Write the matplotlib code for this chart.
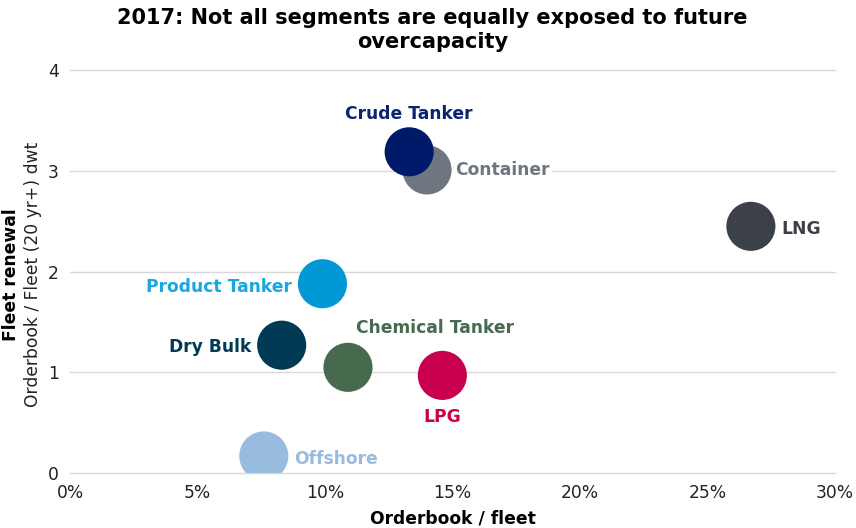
import matplotlib.pyplot as plt

# data
segments = ["Crude Tanker", "Container", "LNG", "Product Tanker", "Dry Bulk",
            "Chemical Tanker", "LPG", "Offshore"]
orderbook_pct = [13.3, 14.0, 26.7, 9.9, 8.3, 10.9, 14.6, 7.6]
fleet_renewal = [3.19, 3.01, 2.45, 1.88, 1.27, 1.05, 0.97, 0.17]

marker_colors = ["#001A6A", "#6E7780", "#3C4048", "#0099D6", "#003A55",
                 "#476A4E", "#C8004E", "#98BCDD"]
label_colors = ["#0D2470", "#6E7780", "#3C4048", "#1AA7E0", "#003A55",
                "#476A4E", "#C8004E", "#98BCDD"]
# (dx, dy) offsets in points and alignment for each label
label_pos = [((0, 27), "center", "center"),
             ((20, 0), "left", "center"),
             ((22, -2), "left", "center"),
             ((-22, -2), "right", "center"),
             ((-22, -1), "right", "center"),
             ((63, 28), "center", "center"),
             ((0, -30), "center", "center"),
             ((22, -2), "left", "center")]

fig = plt.figure(figsize=(8.56, 5.28), dpi=100)
ax = fig.add_axes([0.0818, 0.104, 0.8937, 0.763])

# draw Container before Crude Tanker so navy sits on top
order = [1, 0, 2, 3, 4, 5, 6, 7]
for i in order:
    ax.scatter(orderbook_pct[i], fleet_renewal[i], s=1250, color=marker_colors[i],
               edgecolors="none", zorder=3 + (1 if i == 0 else 0))

for i, name in enumerate(segments):
    (dx, dy), ha, va = label_pos[i]
    ax.annotate(name, (orderbook_pct[i], fleet_renewal[i]), xytext=(dx, dy),
                textcoords="offset points", ha=ha, va=va, fontsize=12.3,
                fontweight="bold", color=label_colors[i], zorder=5,
                bbox=dict(boxstyle="square,pad=0.15", fc="white", ec="none"))

ax.set_xlim(0, 30)
ax.set_ylim(0, 4)
ax.set_xticks(range(0, 31, 5))
ax.set_xticklabels([f"{v}%" for v in range(0, 31, 5)])
ax.set_yticks(range(0, 5))
ax.tick_params(length=0, labelsize=12.3, colors="#222222", pad=8)
ax.grid(axis="y", color="#D9D9D9", linewidth=1)
for gl in ax.get_ygridlines():
    gl.set_clip_on(False)
ax.set_axisbelow(True)
for s in ax.spines.values():
    s.set_visible(False)

ax.set_xlabel("Orderbook / fleet", fontsize=12.3, fontweight="bold", labelpad=5)
fig.text(0.013, 0.48, "Fleet renewal", rotation=90, fontsize=12.3,
         fontweight="bold", ha="center", va="center")
fig.text(0.038, 0.48, "Orderbook / Fleet (20 yr+) dwt", rotation=90,
         fontsize=12.3, ha="center", va="center", color="#222222")

fig.text(0.505, 0.965, "2017: Not all segments are equally exposed to future",
         fontsize=15, fontweight="bold", ha="center", va="center")
fig.text(0.505, 0.92, "overcapacity", fontsize=15, fontweight="bold",
         ha="center", va="center")

fig.savefig("out.png", dpi=100)
